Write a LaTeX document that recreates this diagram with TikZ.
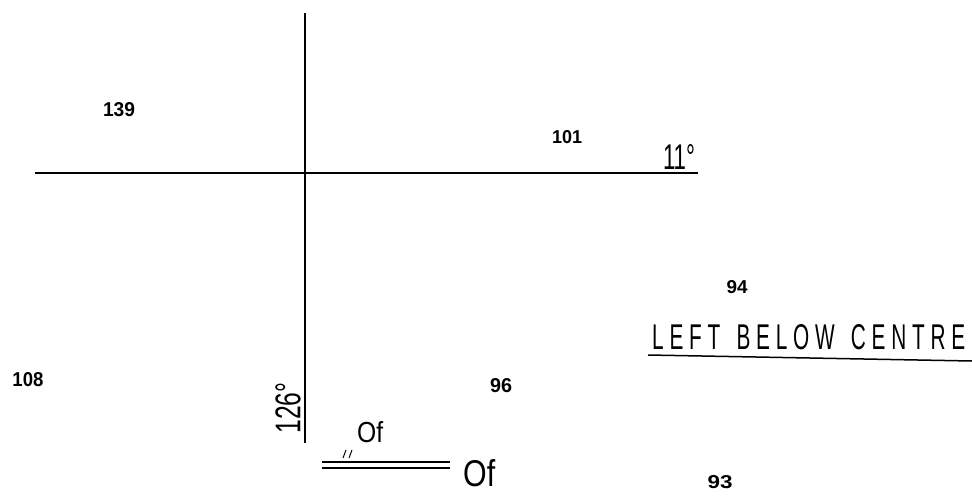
\documentclass[tikz,border=0pt]{standalone}
\usepackage{fontspec}
\usepackage{graphicx}
\setmainfont{Liberation Sans}
\newcommand\fitto[3]{\resizebox{#1pt}{#2pt}{#3}}
\begin{document}
\begin{tikzpicture}[x=1pt,y=-1pt,
  num/.style={inner sep=0pt,font=\bfseries},
  hand/.style={inner sep=0pt},
  axis/.style={line width=1.8pt,black},
  thin/.style={line width=1.5pt,black}]
\useasboundingbox (0,0) rectangle (972,496);
\fill[white] (0,0) rectangle (972,496);
% axes
\coordinate (vtop) at (305,13);
\coordinate (vbot) at (305,443);
\coordinate (hl) at (35,173);
\coordinate (hr) at (698,173);
\draw[axis] (vtop) -- (vbot);
\draw[axis] (hl) -- (hr);
% numbers
\node[num] (n139) at (119,110) {\fitto{32}{14}{139}};
\node[num] (n101) at (567,137) {\fitto{30}{13}{101}};
\node[num] (n94) at (737,287) {\fitto{21}{13}{94}};
\node[num] (n108) at (28,380) {\fitto{31}{14}{108}};
\node[num] (n96) at (501,386) {\fitto{22}{14}{96}};
\node[num,anchor=north] (n93) at (720,475) {\fitto{25}{13}{93}};
% angle labels
\node[hand,anchor=south] (a11) at (679,170) {\fitto{32}{25}{11°}};
\node[hand,rotate=90] (a126) at (288,408) {\fitto{51}{25}{126°}};
% title
\node[hand,anchor=south west] (title) at (652,350) {\fitto{313}{25}{L E F T\enspace\ B E L O W\enspace\ C E N T R E}};
\coordinate (ul) at (648,355);
\coordinate (ur) at (972,361);
\draw[thin] (ul) -- (ur);
% Of labels and double line
\node[hand,anchor=south west] (ofs) at (357,443) {\fitto{26}{21}{Of}};
\node[hand,anchor=south west] (ofb) at (463,487) {\fitto{32}{27}{Of}};
\coordinate (d1l) at (322,462);
\coordinate (d1r) at (450,462);
\coordinate (d2l) at (322,468);
\coordinate (d2r) at (450,468);
\draw[thin] (d1l) -- (d1r);
\draw[thin] (d2l) -- (d2r);
\coordinate (t1a) at (346,450);
\coordinate (t1b) at (343,458);
\coordinate (t2a) at (352,450);
\coordinate (t2b) at (349,458);
\draw[line width=1pt] (t1a) -- (t1b);
\draw[line width=1pt] (t2a) -- (t2b);
\end{tikzpicture}
\end{document}
